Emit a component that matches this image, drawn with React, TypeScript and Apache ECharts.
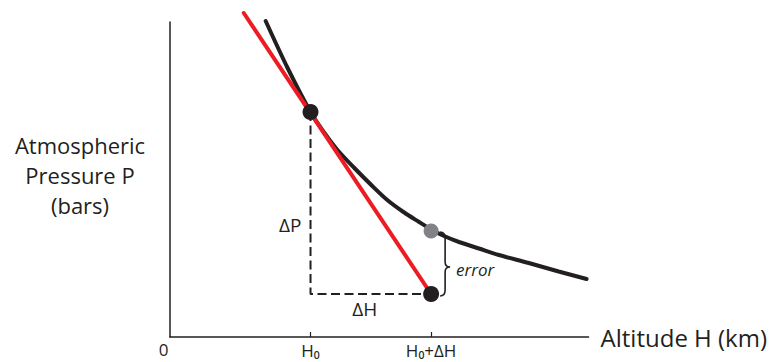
import React, { useEffect, useRef } from "react";
import * as echarts from "echarts";

const FONT = '"Open Sans", "Noto Sans", sans-serif';
const INK = "#231f20";
const RED = "#ed1c24";
const GREY = "#808285";

// Axes ranges (arbitrary units)
const xMin = 0;
const xMax = 420;
const yMin = 0;
const yMax = 315;

// Tick labels on the altitude axis
const xTickValues = [0, 141, 262];
const xTickLabels = ["0", "H₀", "H₀+ΔH"];

// Exponential pressure curve
const curveX = [96, 118, 141, 155, 168, 185, 202, 218, 235, 250, 262, 275, 290, 310, 330, 360, 390, 418];
const curveP = [316, 269, 225, 204, 187, 169, 152, 137, 124.5, 115, 107.5, 101, 95, 88.5, 82, 74, 65.5, 58];

// Tangent (linear estimate) at H0
const tangentX = [74, 262];
const tangentP = [324, 43];

// Key points
const h0 = 141;
const h1 = 262;
const pAtH0 = 225;
const pTrue = 106;
const pEst = 43;

export default function App() {
  const ref = useRef<HTMLDivElement>(null);
  useEffect(() => {
    if (!ref.current) return;
    const chart = echarts.init(ref.current, undefined, { renderer: "svg" });
    const option: any = {
      animation: false,
      backgroundColor: "#ffffff",
      grid: { left: 170, right: 180, top: 22, bottom: 25 },
      xAxis: {
        type: "value",
        min: xMin,
        max: xMax,
        name: "Altitude H (km)",
        nameLocation: "end",
        nameGap: 12,
        nameTextStyle: { fontFamily: FONT, fontSize: 24, color: INK, verticalAlign: "middle" },
        axisLine: { lineStyle: { color: INK, width: 1.5 } },
        axisTick: { show: true, customValues: [h0, h1], inside: true, length: 5, lineStyle: { color: INK, width: 1.2 } },
        splitLine: { show: false },
        axisLabel: {
          customValues: xTickValues,
          margin: 4,
          color: INK,
          fontFamily: FONT,
          formatter: (v: number) => {
            const i = xTickValues.indexOf(v);
            if (i === 0) return "{z|" + xTickLabels[0] + "}";
            return "{h|" + xTickLabels[i] + "}";
          },
          rich: {
            z: { fontFamily: FONT, fontSize: 17, color: INK, padding: [0, 13, 0, 0] },
            h: { fontFamily: FONT, fontSize: 17, color: INK, padding: [1, 0, 0, 0] },
          },
        },
      },
      yAxis: {
        type: "value",
        min: yMin,
        max: yMax,
        axisLine: { show: true, lineStyle: { color: INK, width: 1.5 } },
        axisTick: { show: false },
        axisLabel: { show: false },
        splitLine: { show: false },
      },
      graphic: [
        {
          type: "text",
          x: 80,
          y: 175,
          style: {
            text: "Atmospheric\nPressure P\n(bars)",
            align: "center",
            verticalAlign: "middle",
            fontFamily: FONT,
            fontSize: 22,
            lineHeight: 30,
            fill: INK,
          },
        },
      ],
      series: [
        {
          type: "line",
          data: [[h0, pAtH0], [h0, pEst], [h1, pEst]],
          showSymbol: false,
          symbol: "none",
          lineStyle: { color: INK, width: 2, type: [9, 4.5] },
          z: 1,
          silent: true,
        },
        {
          type: "line",
          data: curveX.map((x, i) => [x, curveP[i]]),
          smooth: 0.3,
          showSymbol: false,
          symbol: "none",
          clip: false,
          lineStyle: { color: INK, width: 4, cap: "round" },
          z: 2,
        },
        {
          type: "line",
          data: tangentX.map((x, i) => [x, tangentP[i]]),
          showSymbol: false,
          symbol: "none",
          clip: false,
          lineStyle: { color: RED, width: 4, cap: "round" },
          z: 3,
        },
        {
          type: "scatter",
          z: 5,
          itemStyle: { opacity: 1 },
          data: [
            { value: [h0, pAtH0], symbolSize: 16, itemStyle: { color: INK, opacity: 1 } },
            { value: [h1, pTrue], symbolSize: 15, itemStyle: { color: GREY, opacity: 1 } },
            { value: [h1, pEst], symbolSize: 16, itemStyle: { color: INK, opacity: 1 } },
          ],
        },
        {
          type: "custom",
          clip: false,
          z: 6,
          silent: true,
          data: [[h1, pTrue, pEst]],
          renderItem: (params: any, api: any) => {
            const top = api.coord([h1, pTrue]);
            const bot = api.coord([h1, pEst]);
            const mid0 = api.coord([h0, (pAtH0 + pEst) / 2]);
            const midH = api.coord([(h0 + h1) / 2, pEst]);
            const x0 = top[0] + 9;
            const y0 = top[1] + 1;
            const y1 = bot[1] + 2;
            const ym = (y0 + y1) / 2 + 3;
            const d =
              `M ${x0} ${y0} Q ${x0 + 5} ${y0} ${x0 + 5} ${y0 + 6} ` +
              `L ${x0 + 5} ${ym - 5} Q ${x0 + 5} ${ym} ${x0 + 10} ${ym} ` +
              `Q ${x0 + 5} ${ym} ${x0 + 5} ${ym + 5} ` +
              `L ${x0 + 5} ${y1 - 6} Q ${x0 + 5} ${y1} ${x0} ${y1}`;
            return {
              type: "group",
              children: [
                {
                  type: "path",
                  shape: { pathData: d },
                  style: { stroke: INK, lineWidth: 1.6, fill: "none" },
                },
                {
                  type: "text",
                  style: {
                    text: "error",
                    x: x0 + 16,
                    y: ym + 2,
                    align: "left",
                    verticalAlign: "middle",
                    fontFamily: FONT,
                    fontStyle: "italic",
                    fontSize: 17,
                    fill: INK,
                  },
                },
                {
                  type: "text",
                  style: {
                    text: "ΔP",
                    x: mid0[0] - 9,
                    y: mid0[1] + 22,
                    align: "right",
                    verticalAlign: "middle",
                    fontFamily: FONT,
                    fontSize: 19,
                    fill: INK,
                  },
                },
                {
                  type: "text",
                  style: {
                    text: "ΔH",
                    x: midH[0] - 6,
                    y: midH[1] + 15,
                    align: "center",
                    verticalAlign: "middle",
                    fontFamily: FONT,
                    fontSize: 19,
                    fill: INK,
                  },
                },
              ],
            };
          },
        },
      ],
    };
    chart.setOption(option);
    return () => chart.dispose();
  }, []);
  return <div ref={ref} style={{ width: 770, height: 362, position: "absolute", left: 0, top: 0 }} />;
}
